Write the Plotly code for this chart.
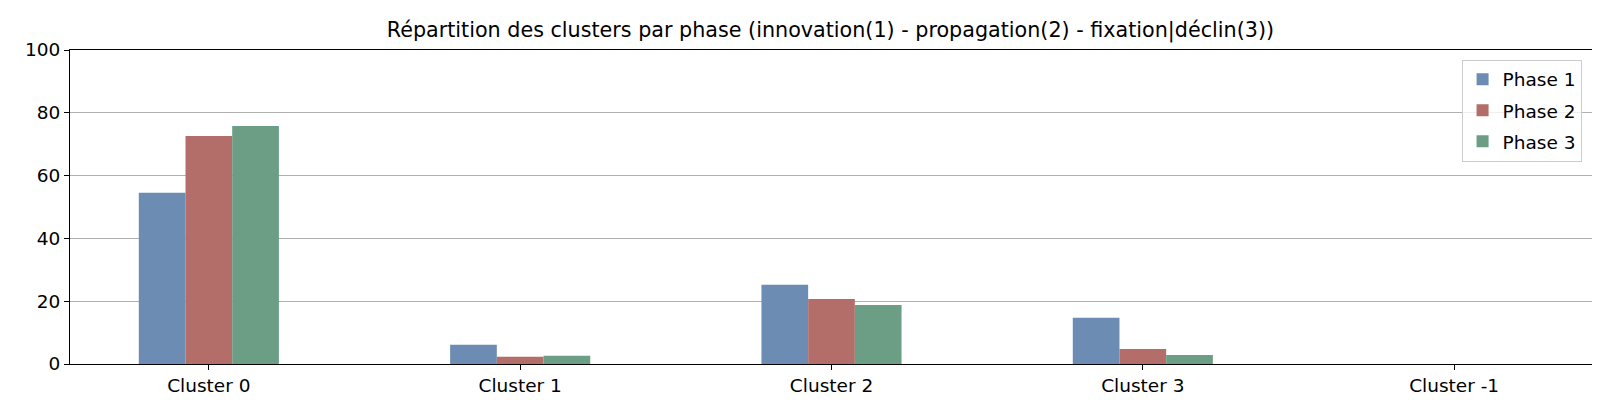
import plotly.graph_objects as go

# values (% per phase)
clusters = ['Cluster 0', 'Cluster 1', 'Cluster 2', 'Cluster 3', 'Cluster -1']
phase_1 = [54.5, 6.1, 25.2, 14.7, 0.0]
phase_2 = [72.6, 2.3, 20.7, 4.8, 0.0]
phase_3 = [75.8, 2.6, 18.8, 2.9, 0.0]
y_ticks = [0, 20, 40, 60, 80, 100]

series = [('Phase 1', phase_1, '#6d8cb3'),
          ('Phase 2', phase_2, '#b36e6a'),
          ('Phase 3', phase_3, '#6b9e84')]

fig = go.Figure()
for name, vals, col in series:
    fig.add_trace(go.Bar(x=clusters, y=vals, name=name, legendgroup=name,
                         marker_color=col, marker_line_width=0))

axis_style = dict(showline=True, linecolor='black', linewidth=1.1, mirror=True,
                  ticks='outside', ticklen=5, tickcolor='black', tickwidth=1,
                  tickfont=dict(size=18.5, color='black'), zeroline=False)

fig.update_xaxes(type='category', range=[-0.446, 4.446], showgrid=False, **axis_style)
fig.update_yaxes(range=[0, 100], tickvals=y_ticks, showgrid=True,
                 gridcolor='#b0b0b0', gridwidth=1, **axis_style)

fig.update_layout(
    title={'text': 'Répartition des clusters par phase (innovation(1) - propagation(2) - fixation|déclin(3))',
           'x': 0.514, 'xanchor': 'center', 'y': 0.945, 'yanchor': 'middle',
           'font': dict(size=20.7, color='black')},
    barmode='group', bargap=0.55, bargroupgap=0,
    width=1600, height=400,
    margin=dict(l=62, r=15, t=42, b=44),
    font=dict(family='DejaVu Sans', color='black'),
    plot_bgcolor='white', paper_bgcolor='white',
    legend=dict(x=0.9925, xanchor='right', y=0.969, yanchor='top',
                bgcolor='rgba(255,255,255,0.8)', bordercolor='#cccccc', borderwidth=1,
                font=dict(size=18.5), traceorder='grouped', tracegroupgap=4),
    showlegend=True,
)

fig.write_html("out.html")
